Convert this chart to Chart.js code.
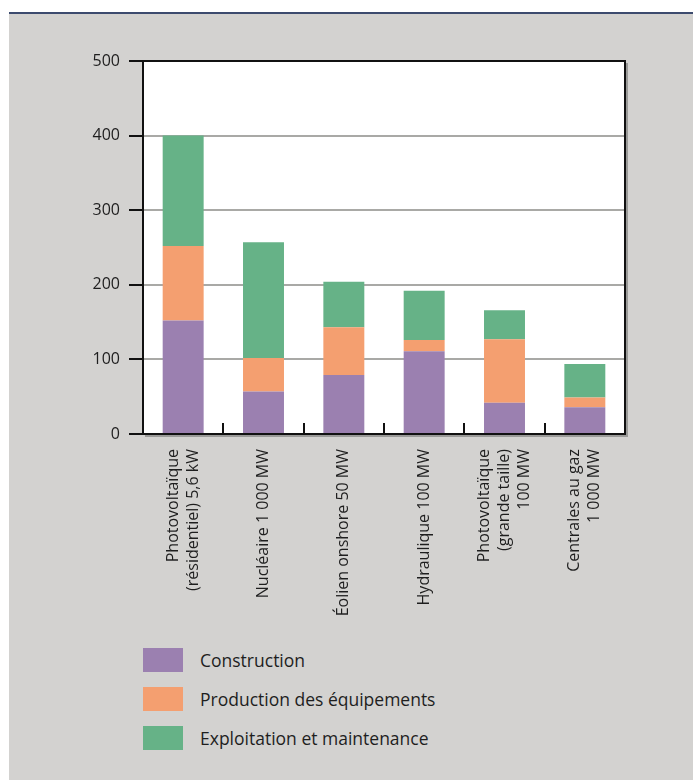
<!DOCTYPE html>
<html>
<head>
<meta charset="utf-8">
<script src="https://cdn.jsdelivr.net/npm/chart.js@4.4.1/dist/chart.umd.min.js"></script>
<style>
  html, body { margin: 0; padding: 0; background: #fff; }
  body { width: 693px; height: 780px; position: relative; overflow: hidden; font-family: "Open Sans", sans-serif; }
  #panel { position: absolute; left: 9px; top: 12px; right: 0; bottom: 0; background: #d3d2d0; border-top: 2px solid #3c4b6e; }
  #chart { position: absolute; left: 0; top: 0; }
  #legend { position: absolute; left: 143px; top: 648px; }
  .item { display: flex; align-items: center; height: 24px; margin-bottom: 15px; color: #1e1e1e; font-size: 17.5px; }
  .box { width: 40px; height: 24px; margin-right: 17px; }
</style>
</head>
<body>
<div id="panel"></div>
<canvas id="chart" width="693" height="630"></canvas>
<div id="legend"></div>
<script>
const categories = [
  ["Photovoltaïque", "(résidentiel) 5,6 kW"],
  "Nucléaire 1 000 MW",
  "Éolien onshore 50 MW",
  "Hydraulique 100 MW",
  ["Photovoltaïque", "(grande taille)", "100 MW"],
  ["Centrales au gaz", "1 000 MW"]
];
const construction = [152, 57, 79, 111, 42, 36];
const production = [100, 45, 64, 15, 85, 13];
const exploitation = [148, 155, 61, 66, 39, 45];
const yTicks = [0, 100, 200, 300, 400, 500];

const seriesNames = ["Construction", "Production des équipements", "Exploitation et maintenance"];
const seriesColors = ["#9b80b0", "#f49f70", "#66b287"];

const frame = {
  id: "frame",
  beforeDraw(chart) {
    const { ctx, chartArea: a } = chart;
    ctx.save();
    ctx.fillStyle = "#fff";
    ctx.fillRect(a.left, a.top, a.right - a.left, a.bottom - a.top);
    ctx.restore();
    // center multi-line category labels on their bar
    chart.scales.x.getLabelItems().forEach(item => {
      const n = Array.isArray(item.label) ? item.label.length : 1;
      item.textOffset -= (n - 1) * item.font.lineHeight / 2;
    });
  },
  afterDraw(chart) {
    const { ctx, chartArea: a } = chart;
    const x = chart.scales.x;
    ctx.save();
    // small shadow on the right and bottom
    ctx.strokeStyle = "#9a9a98";
    ctx.lineWidth = 2;
    ctx.beginPath();
    ctx.moveTo(a.right + 2, a.top + 2);
    ctx.lineTo(a.right + 2, a.bottom + 2);
    ctx.lineTo(a.left + 2, a.bottom + 2);
    ctx.stroke();
    ctx.strokeStyle = "#111";
    ctx.beginPath();
    ctx.moveTo(a.left, a.top);
    ctx.lineTo(a.right, a.top);
    ctx.lineTo(a.right, a.bottom);
    ctx.stroke();
    // inward ticks between categories
    for (let i = 0; i < categories.length - 1; i++) {
      const px = Math.round((x.getPixelForValue(i) + x.getPixelForValue(i + 1)) / 2);
      ctx.beginPath();
      ctx.moveTo(px, a.bottom);
      ctx.lineTo(px, a.bottom - 11);
      ctx.stroke();
    }
    ctx.restore();
  }
};

const chart = new Chart(document.getElementById("chart"), {
  type: "bar",
  data: {
    labels: categories,
    datasets: [construction, production, exploitation].map((d, i) => ({
      label: seriesNames[i],
      data: d,
      backgroundColor: seriesColors[i],
      borderWidth: 0,
      categoryPercentage: 1,
      barPercentage: 0.51
    }))
  },
  options: {
    responsive: false,
    animation: false,
    devicePixelRatio: 1,
    layout: { padding: { top: 61, right: 68, bottom: 0, left: 0 } },
    plugins: { legend: { display: false }, tooltip: { enabled: false } },
    scales: {
      x: {
        stacked: true,
        afterFit(s) { s.height = 196; },
        grid: { drawOnChartArea: false, drawTicks: false },
        border: { color: "#111", width: 2 },
        ticks: {
          minRotation: 90,
          maxRotation: 90,
          padding: 15,
          color: "#1e1e1e",
          font: { family: "Open Sans", size: 16, lineHeight: 1.25 }
        }
      },
      y: {
        stacked: true,
        min: 0,
        max: 500,
        afterFit(s) { s.width = 143; },
        afterBuildTicks(s) { s.ticks = yTicks.map(v => ({ value: v })); },
        grid: {
          color: "#a9a9a6",
          lineWidth: 2,
          tickColor: "#111",
          tickLength: 14,
          tickWidth: 2
        },
        border: { color: "#111", width: 2 },
        ticks: {
          padding: 9,
          color: "#1e1e1e",
          font: { family: "Open Sans", size: 16 }
        }
      }
    }
  },
  plugins: [frame]
});

const legend = document.getElementById("legend");
chart.data.datasets.forEach(ds => {
  const row = document.createElement("div");
  row.className = "item";
  const box = document.createElement("span");
  box.className = "box";
  box.style.background = ds.backgroundColor;
  const txt = document.createElement("span");
  txt.textContent = ds.label;
  row.appendChild(box);
  row.appendChild(txt);
  legend.appendChild(row);
});
</script>
</body>
</html>
